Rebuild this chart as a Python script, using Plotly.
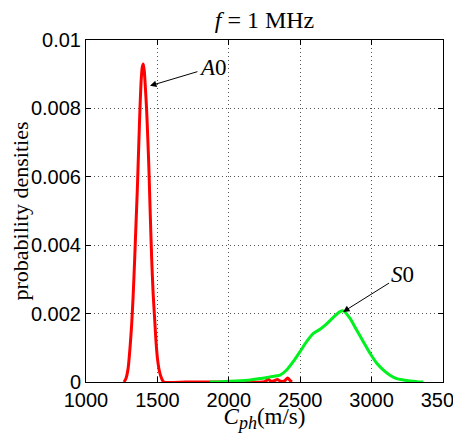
import plotly.graph_objects as go

# ---- data ----
a0_x = [1266, 1280, 1295, 1310, 1320, 1330, 1340, 1350, 1360, 1370, 1378, 1386,
        1394, 1401, 1408, 1416, 1424, 1432, 1440, 1450, 1460, 1470, 1480, 1490,
        1500, 1515, 1530, 1545, 1700, 1900, 2100, 2240, 2260, 2277, 2295, 2315,
        2340, 2365, 2390, 2412, 2430, 2442]
a0_y = [0.0, 0.0001, 0.0004, 0.0011, 0.0017, 0.0025, 0.0035, 0.0046, 0.0057,
        0.0070, 0.0080, 0.0088, 0.0092, 0.0093, 0.0091, 0.0086, 0.0080, 0.0072,
        0.0063, 0.0049, 0.0036, 0.0026, 0.0019, 0.0012, 0.0007, 0.0003, 0.0001,
        0.0, 0.0, 0.0, 0.0, 0.0, 0.00003, 0.00008, 0.00002, 0.00003, 0.00007,
        0.00002, 0.00003, 0.00012, 0.00004, 0.0]

s0_x = [1868, 1950, 2050, 2150, 2220, 2288, 2359, 2405, 2452, 2499, 2545, 2592,
        2639, 2685, 2732, 2779, 2802, 2849, 2895, 2942, 2989, 3036, 3083, 3129,
        3176, 3222, 3269, 3320, 3362]
s0_y = [0.0, 0.00001, 0.00003, 0.00006, 0.0001, 0.00015, 0.0002, 0.00035,
        0.0006, 0.00089, 0.00118, 0.00142, 0.00154, 0.0017, 0.00189, 0.00206,
        0.00208, 0.00186, 0.00152, 0.00118, 0.00084, 0.00055, 0.00035, 0.0002,
        0.0001, 0.00006, 0.00003, 0.00001, 0.0]

x_ticks = [1000, 1500, 2000, 2500, 3000, 3500]
y_ticks = [0, 0.002, 0.004, 0.006, 0.008, 0.01]
y_tick_text = ["0", "0.002", "0.004", "0.006", "0.008", "0.01"]

SERIF = "Liberation Serif, Times New Roman, serif"
SANS = "Liberation Sans, Arial, sans-serif"

W, H = 453, 425  # page body has an 8px margin

fig = go.Figure()
fig.add_trace(go.Scatter(x=a0_x, y=a0_y, mode="lines",
                         line=dict(color="#ff0000", width=3, shape="spline", smoothing=0.6),
                         showlegend=False, hoverinfo="skip"))
fig.add_trace(go.Scatter(x=s0_x, y=s0_y, mode="lines",
                         line=dict(color="#00f020", width=3, shape="spline", smoothing=0.6),
                         showlegend=False, hoverinfo="skip"))

axis_common = dict(
    showline=True, linecolor="black", linewidth=1, mirror="ticks",
    ticks="inside", ticklen=5, tickcolor="black", tickwidth=1,
    showgrid=True, gridcolor="#555555", gridwidth=1, griddash="1px,3px",
    zeroline=False, tickfont=dict(family=SANS, size=20, color="black"),
    ticklabeloverflow="allow",
)

fig.update_xaxes(range=[1000, 3500], tickvals=x_ticks,
                 ticktext=[str(v) for v in x_ticks],
                 title=dict(text="<i>C</i><sub><span style='font-size:18px'><i>ph</i></span></sub>(m/s)",
                            font=dict(family=SERIF, size=23, color="black"),
                            standoff=3),
                 **axis_common)
fig.update_yaxes(range=[0, 0.01], tickvals=y_ticks, ticktext=y_tick_text,
                 title=dict(text="probability densities",
                            font=dict(family=SERIF, size=22, color="black"),
                            standoff=4),
                 **axis_common)

fig.update_layout(
    width=W, height=H,
    margin=dict(l=78, r=18, t=32, b=51, autoexpand=False),
    plot_bgcolor="white", paper_bgcolor="white",
    title=dict(text="<i>f</i> = 1 MHz", x=(78 + (W - 18)) / 2 / W, xanchor="center",
               y=1 - 12 / H, yanchor="middle", yref="container",
               font=dict(family=SERIF, size=24, color="black")),
)

# annotations: text placed at tail, arrow clipped at text box edge
fig.add_annotation(x=1448, y=0.00866, ax=1889, ay=0.00921, axref="x", ayref="y",
                   xref="x", yref="y", text="<i>A</i>0", showarrow=True, arrowhead=2,
                   arrowsize=1.3, arrowwidth=1, arrowcolor="black",
                   font=dict(family=SERIF, size=23, color="black"))
fig.add_annotation(x=2800, y=0.00205, ax=3213, ay=0.00313, axref="x", ayref="y",
                   xref="x", yref="y", text="<i>S</i>0", showarrow=True, arrowhead=2,
                   arrowsize=1.3, arrowwidth=1, arrowcolor="black",
                   font=dict(family=SERIF, size=23, color="black"))

fig.write_html("out.html")
